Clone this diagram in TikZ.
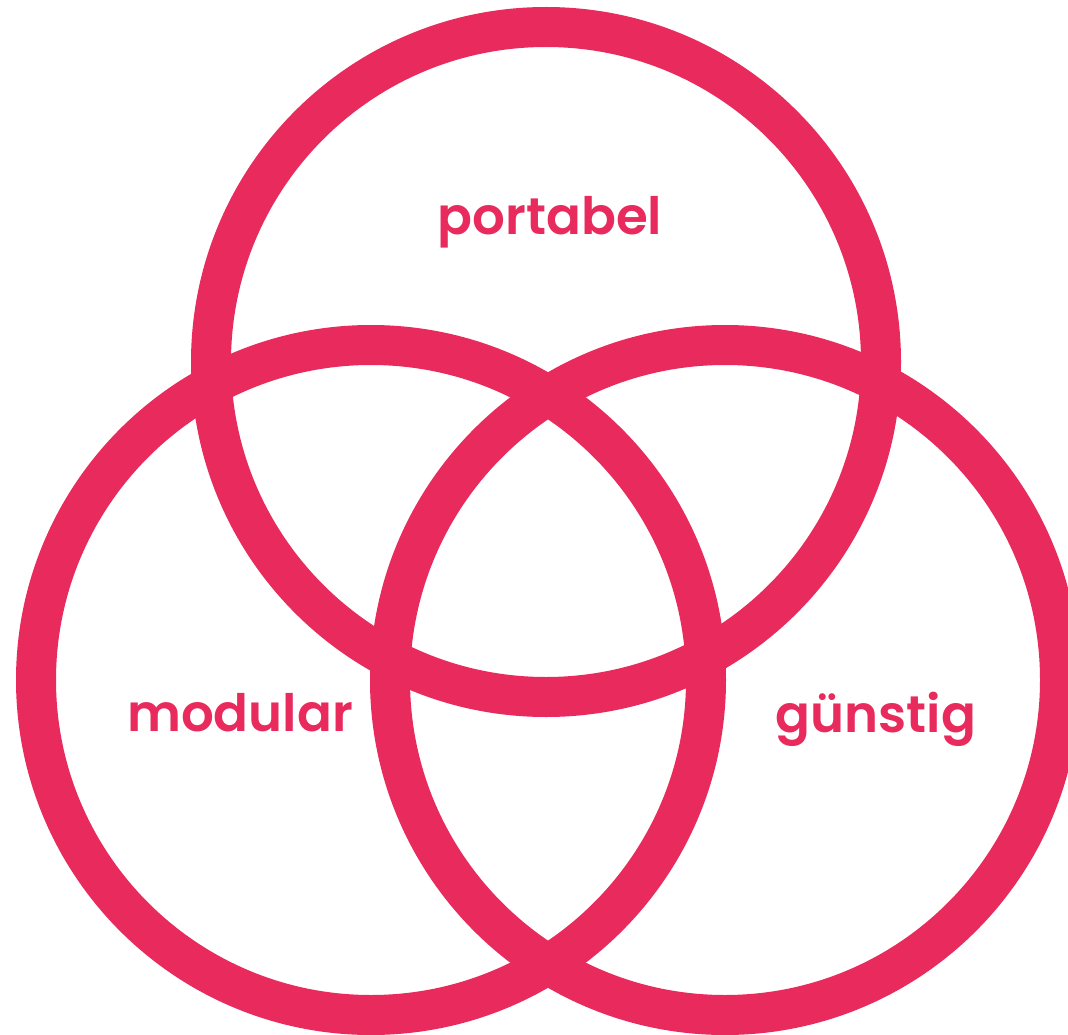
\documentclass[tikz,border=0pt]{standalone}
\usepackage{fontspec}
\setmainfont{Poppins}[BoldFont={Poppins SemiBold}]
\definecolor{vpink}{RGB}{232,42,92}
\tikzset{
  ring/.style={circle, draw=vpink, line width=40pt, minimum size=670pt, inner sep=0pt},
  lbl/.style={text=vpink, font=\fontsize{51.5}{60}\selectfont\bfseries, anchor=base, inner sep=0pt}
}
\begin{document}
\begin{tikzpicture}[x=1pt,y=-1pt]
\useasboundingbox (0,0) rectangle (1068,1035);
\begin{scope}
\clip (0,0) rectangle (1068,1035);
\node[ring] (top) at (546,362) {};
\node[ring] (left) at (371,680) {};
\node[ring] (right) at (725,680) {};
\end{scope}
\node[lbl] (portabel) at (550,235) {portabel};
\node[lbl] (modular) at (240,731) {modular};
\node[lbl] (guenstig) at (876,732) {günstig};
\end{tikzpicture}
\end{document}
